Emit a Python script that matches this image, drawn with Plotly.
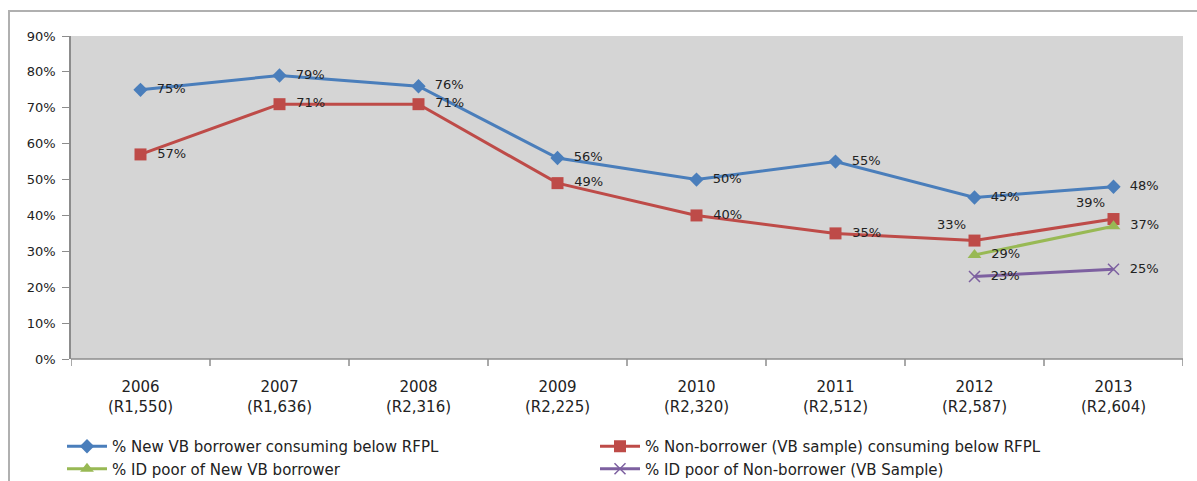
import plotly.graph_objects as go

categories = ["2006<br>(R1,550)", "2007<br>(R1,636)", "2008<br>(R2,316)", "2009<br>(R2,225)",
              "2010<br>(R2,320)", "2011<br>(R2,512)", "2012<br>(R2,587)", "2013<br>(R2,604)"]

new_vb_below_rfpl = [75, 79, 76, 56, 50, 55, 45, 48]
non_borrower_below_rfpl = [57, 71, 71, 49, 40, 35, 33, 39]
id_poor_new_vb_cats = categories[6:]
id_poor_new_vb = [29, 37]
id_poor_non_borrower_cats = categories[6:]
id_poor_non_borrower = [23, 25]

FONT = "DejaVu Sans, Verdana, sans-serif"
label_font = dict(family=FONT, size=13, color="#222222")


def pct_labels(values):
    return [f"  {v}%" for v in values]


fig = go.Figure()

fig.add_trace(go.Scatter(
    x=categories, y=new_vb_below_rfpl, mode="lines+markers+text",
    name="% New VB borrower consuming below RFPL",
    line=dict(color="#4a7ebb", width=3),
    marker=dict(symbol="diamond", size=11, color="#4a7ebb"),
    text=pct_labels(new_vb_below_rfpl), textposition="middle right",
    textfont=label_font,
))

fig.add_trace(go.Scatter(
    x=categories, y=non_borrower_below_rfpl, mode="lines+markers+text",
    name="% Non-borrower (VB sample) consuming below RFPL",
    line=dict(color="#be4b48", width=3),
    marker=dict(symbol="square", size=12, color="#be4b48"),
    text=pct_labels(non_borrower_below_rfpl[:6]) + [f"{v}%" for v in non_borrower_below_rfpl[6:]],
    textposition=["middle right"] * 6 + ["top left", "top left"],
    textfont=label_font,
))

fig.add_trace(go.Scatter(
    x=id_poor_new_vb_cats, y=id_poor_new_vb, mode="lines+markers+text",
    name="% ID poor of New VB borrower",
    line=dict(color="#98b954", width=3),
    marker=dict(symbol="triangle-up", size=12, color="#98b954"),
    text=pct_labels(id_poor_new_vb), textposition="middle right",
    textfont=label_font,
))

fig.add_trace(go.Scatter(
    x=id_poor_non_borrower_cats, y=id_poor_non_borrower, mode="lines+markers+text",
    name="% ID poor of Non-borrower (VB Sample)",
    line=dict(color="#7d60a0", width=3),
    marker=dict(symbol="x-thin-open", size=11, color="#7d60a0",
                line=dict(color="#7d60a0", width=1.5)),
    text=pct_labels(id_poor_non_borrower), textposition="middle right",
    textfont=label_font,
))

# outer chart frame
fig.add_shape(type="rect", xref="paper", yref="paper",
              x0=(9 - 71) / 1112, x1=1.2, y0=-1.0, y1=1 + (36 - 11) / 323,
              line=dict(color="#b0b0b0", width=2), fillcolor="rgba(0,0,0,0)", layer="below")

fig.update_layout(
    width=1197, height=481,
    margin=dict(l=71, r=14, t=36, b=122, autoexpand=False),
    paper_bgcolor="white",
    plot_bgcolor="#d5d5d5",
    showlegend=True,
    legend=dict(
        orientation="h", x=(62 - 71) / 1112, y=-(430 - 359) / 323, xanchor="left", yanchor="top",
        entrywidth=478, entrywidthmode="pixels",
        font=dict(family=FONT, size=15, color="#222222"),
        itemwidth=40, tracegroupgap=0, bgcolor="rgba(0,0,0,0)",
    ),
    font=dict(family=FONT, color="#222222"),
    xaxis=dict(
        type="category", showgrid=False, zeroline=False,
        showline=False, ticks="", tickfont=dict(family=FONT, size=15, color="#222222"),
        ticklabelstandoff=17,
        range=[-0.5, 7.5],
    ),
    yaxis=dict(
        range=[0, 90], dtick=10, ticksuffix="%", showgrid=False, zeroline=False,
        showline=True, linecolor="#8c8c8c", linewidth=1.5,
        ticks="outside", ticklen=7, tickcolor="#8c8c8c",
        ticklabelstandoff=4,
        tickfont=dict(family=FONT, size=13, color="#222222"),
    ),
)

# category axis line with tick marks between categories
fig.add_shape(type="line", xref="paper", yref="paper", x0=0, x1=1, y0=0, y1=0,
              line=dict(color="#8c8c8c", width=1.5))
for i in range(9):
    fig.add_shape(type="line", xref="x", yref="paper", x0=i - 0.5, x1=i - 0.5,
                  y0=0, y1=-7 / 323, line=dict(color="#8c8c8c", width=1.5))

fig.write_html("out.html")
